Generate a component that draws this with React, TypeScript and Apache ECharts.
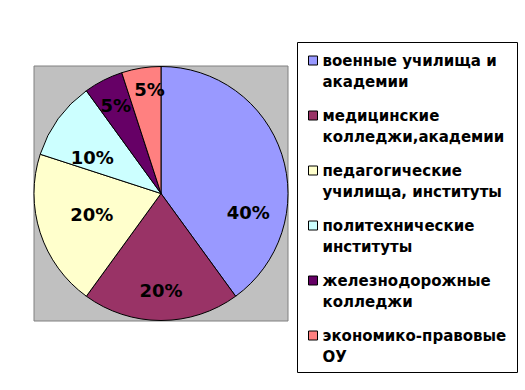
import React, { useEffect, useRef } from "react";
import * as echarts from "echarts";

const categories = [
  "военные училища и\nакадемии",
  "медицинские\nколледжи,академии",
  "педагогические\nучилища, институты",
  "политехнические\nинституты",
  "железнодорожные\nколледжи",
  "экономико-правовые\nОУ",
];
const values = [40, 20, 20, 10, 5, 5];
const colors = ["#9999FF", "#993366", "#FFFFCC", "#CCFFFF", "#660066", "#FF8080"];
const labelOffsets = [
  [24, 40],
  [0, 30],
  [-6, 0],
  [-15, 3],
  [-15, -29],
  [-1, -38],
];

const FONT = "DejaVu Sans, Verdana, sans-serif";

export default function App() {
  const ref = useRef<HTMLDivElement>(null);
  useEffect(() => {
    const chart = echarts.init(ref.current!, null, { renderer: "svg" });
    chart.setOption({
      animation: false,
      backgroundColor: "#ffffff",
      graphic: [
        {
          type: "rect",
          shape: { x: 34, y: 66, width: 254, height: 255 },
          style: { fill: "#C0C0C0", stroke: "#808080", lineWidth: 1 },
          z: -10,
        },
        {
          type: "rect",
          shape: { x: 297.5, y: 42.5, width: 220, height: 330 },
          style: { fill: "#ffffff", stroke: "#000000", lineWidth: 1 },
          z: -10,
        },
      ],
      legend: {
        orient: "vertical",
        left: 303,
        top: 24,
        itemWidth: 9,
        itemHeight: 9,
        itemGap: -8,
        icon: "rect",
        itemStyle: { borderColor: "#000", borderWidth: 1 },
        formatter: (name: string) => " \n" + name,
        textStyle: {
          fontFamily: FONT,
          fontWeight: "bold",
          fontSize: 15,
          color: "#000",
          lineHeight: 21,
        },
        data: categories,
      },
      series: [
        {
          type: "pie",
          center: [161, 193.5],
          radius: 127,
          startAngle: 90,
          clockwise: true,
          silent: true,
          itemStyle: { borderColor: "#000", borderWidth: 1 },
          label: {
            position: "inside",
            formatter: "{c}%",
            fontFamily: FONT,
            fontWeight: "bold",
            fontSize: 18,
            color: "#000",
          },
          labelLine: { show: false },
          data: categories.map((name, i) => ({
            name,
            value: values[i],
            itemStyle: { color: colors[i] },
            label: { offset: labelOffsets[i] },
          })),
        },
      ],
    });
    return () => chart.dispose();
  }, []);
  return (
    <div
      ref={ref}
      style={{ position: "fixed", left: 0, top: 0, width: 525, height: 390 }}
    />
  );
}
